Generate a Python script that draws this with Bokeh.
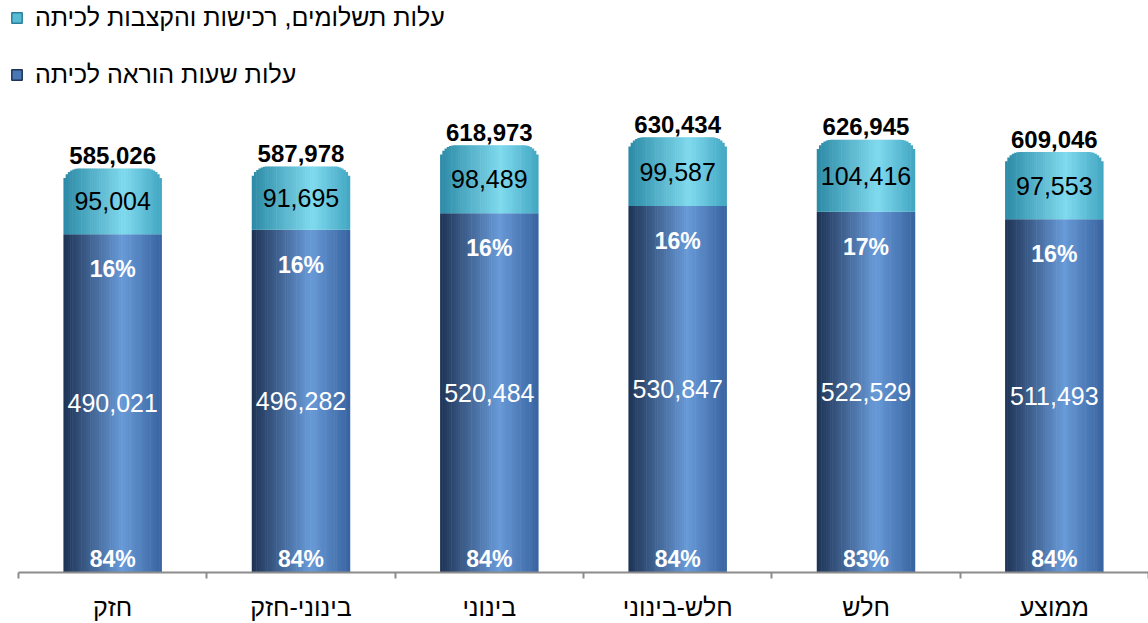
import numpy as np
from bokeh.plotting import figure
from bokeh.models import ColumnDataSource, Range1d, FixedTicker, Legend, LegendItem
from bokeh.core.properties import value
from bokeh.embed import file_html
from bokeh.resources import INLINE

# ---------------- data ----------------
categories = ["חזק", "בינוני-חזק", "בינוני", "חלש-בינוני", "חלש", "ממוצע"]
teaching = [490021, 496282, 520484, 530847, 522529, 511493]
payments = [95004, 91695, 98489, 99587, 104416, 97553]
totals = [585026, 587978, 618973, 630434, 626945, 609046]
teach_pct = ["84%", "84%", "84%", "84%", "83%", "84%"]
pay_pct = ["16%", "16%", "16%", "16%", "17%", "16%"]
series_names = ["עלות תשלומים, רכישות והקצבות לכיתה", "עלות שעות הוראה לכיתה"]

# ---------------- layout ----------------
W, H = 1148, 623
ML, MB, MT, MR = 10, 48, 0, 0
PAD_L = 8  # px between frame edge and first category boundary
FRAME_W = W - ML - MR
FRAME_H = H - MB - MT
Y_END = 828500
ppu = FRAME_H / Y_END
NC = len(categories)
cat_px = (FRAME_W - PAD_L) / NC
X_START = -PAD_L / cat_px
BW = 0.52
N = 44
bar_px = BW * cat_px
R_PX = 15
FONT = "Liberation Sans"

dark_stops = [(0.0, (0x1e, 0x33, 0x55)), (0.6, (0x68, 0x9a, 0xd8)), (1.0, (0x38, 0x64, 0xa0))]
light_stops = [(0.0, (0x2c, 0x8a, 0xa6)), (0.62, (0x80, 0xda, 0xee)), (1.0, (0x42, 0xa6, 0xc2))]


def grad(stops, t):
    for (t0, c0), (t1, c1) in zip(stops[:-1], stops[1:]):
        if t <= t1:
            f = (t - t0) / (t1 - t0)
            c = [round(a + (b - a) * f) for a, b in zip(c0, c1)]
            return "#%02x%02x%02x" % tuple(c)
    return "#%02x%02x%02x" % stops[-1][1]


centers = [i + 0.5 for i in range(NC)]

dx, dtop, dbot, dcol = [], [], [], []
lx, ltop, lbot, lcol = [], [], [], []
for i, c in enumerate(centers):
    for j in range(N):
        t = (j + 0.5) / N
        off = t - 0.5
        x = c + off * BW
        u = abs(off) * bar_px
        d = bar_px / 2 - u
        drop = 0.0
        if d < R_PX:
            drop = R_PX - np.sqrt(max(R_PX ** 2 - (R_PX - d) ** 2, 0.0))
        dx.append(x); dbot.append(0); dtop.append(teaching[i]); dcol.append(grad(dark_stops, t))
        lx.append(x); lbot.append(teaching[i]); ltop.append(totals[i] - drop / ppu); lcol.append(grad(light_stops, t))

p = figure(width=W, height=H, output_backend="svg", toolbar_location=None,
           x_range=Range1d(X_START, NC), y_range=Range1d(0, Y_END),
           min_border_left=ML, min_border_right=MR, min_border_top=MT, min_border_bottom=MB)
p.outline_line_color = None
p.grid.visible = False
p.yaxis.visible = False
p.background_fill_color = "white"

sw = BW / N * 1.25
p.vbar(x="x", top="top", bottom="bottom", width=sw, fill_color="color", line_color=None,
       source=ColumnDataSource(dict(x=dx, top=dtop, bottom=dbot, color=dcol)))
p.vbar(x="x", top="top", bottom="bottom", width=sw, fill_color="color", line_color=None,
       source=ColumnDataSource(dict(x=lx, top=ltop, bottom=lbot, color=lcol)))

# legend swatches (off-screen quads; only their legend squares are visible)
r_pay = p.quad(left=[-5], right=[-4], bottom=[0], top=[1], fill_color="#58bcd4", line_color="#2c7f99", line_width=1.5)
r_teach = p.quad(left=[-5], right=[-4], bottom=[0], top=[1], fill_color="#4a78b4", line_color="#1e3355", line_width=1.5)

# labels
src = ColumnDataSource(dict(
    x=centers,
    teach=teaching, pay=payments, tot=totals,
    teach_mid=[t / 2 for t in teaching],
    pay_mid=[t + pv / 2 for t, pv in zip(teaching, payments)],
    zero=[0] * NC,
    teach_lbl=[f"{v:,}" for v in teaching],
    pay_lbl=[f"{v:,}" for v in payments],
    tot_lbl=[f"{v:,}" for v in totals],
    tp=teach_pct, pp=pay_pct,
))
p.text(x="x", y="teach_mid", text="teach_lbl", source=src, text_align="center", text_baseline="middle",
       text_color="white", text_font=value(FONT), text_font_size="25px")
p.text(x="x", y="pay_mid", text="pay_lbl", source=src, text_align="center", text_baseline="middle",
       text_color="black", text_font=value(FONT), text_font_size="25px")
p.text(x="x", y="tot", text="tot_lbl", source=src, text_align="center", text_baseline="middle",
       y_offset=-13, text_color="black", text_font=value(FONT), text_font_size="24px", text_font_style="bold")
p.text(x="x", y="zero", text="tp", source=src, text_align="center", text_baseline="middle",
       y_offset=-14, text_color="white", text_font=value(FONT), text_font_size="23px", text_font_style="bold")
p.text(x="x", y="teach", text="pp", source=src, text_align="center", text_baseline="middle",
       y_offset=35, text_color="white", text_font=value(FONT), text_font_size="23px", text_font_style="bold")

# axis
ax = p.xaxis[0]
ax.bounds = (0, NC)
ax.ticker = FixedTicker(ticks=centers, minor_ticks=list(range(NC + 1)))
ax.major_label_overrides = {c: name for c, name in zip(centers, categories)}
ax.major_tick_line_color = None
ax.major_tick_out = 0
ax.major_tick_in = 0
ax.minor_tick_out = 6
ax.minor_tick_in = 0
ax.minor_tick_line_color = "#8c8c8c"
ax.minor_tick_line_width = 2
ax.axis_line_color = "#8c8c8c"
ax.axis_line_width = 2
ax.major_label_standoff = 14
ax.major_label_text_font = FONT
ax.major_label_text_font_size = "25px"
ax.major_label_text_color = "black"

legend = Legend(items=[LegendItem(label=series_names[0], renderers=[r_pay]),
                       LegendItem(label=series_names[1], renderers=[r_teach])],
                location=(0, 483), glyph_width=13, glyph_height=13, label_standoff=12,
                spacing=28, padding=0, margin=0, border_line_color=None, background_fill_alpha=0,
                label_text_font=FONT, label_text_font_size="25px", label_text_color="black")
p.add_layout(legend)

open("out.html", "w").write(file_html(p, INLINE))
